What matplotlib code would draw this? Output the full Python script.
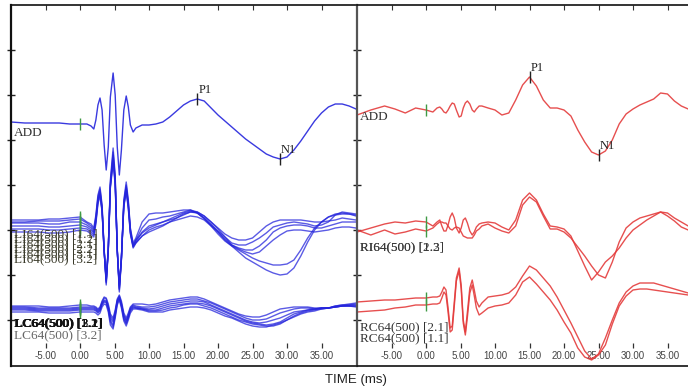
import matplotlib
matplotlib.use("Agg")
import matplotlib.pyplot as plt
import numpy as np

# time base (ms), shared by every trace
T = [-10, -8, -6, -4.5, -3, -1.5, 0, 1.0, 1.6,
     2.0, 2.3, 2.6, 2.9, 3.2, 3.5, 3.8, 4.1, 4.4, 4.8, 5.1, 5.4, 5.7, 6.0, 6.35, 6.7, 7.0, 7.3, 7.7,
     8.1, 9, 10, 11, 12, 13, 14, 15, 16, 17, 18, 19, 20, 21, 22, 23, 24, 25, 26, 27, 28, 29,
     30, 31, 32, 33, 34, 35, 36, 37, 38, 39, 40]

# ---------------------------------------------------------------------------
# Left hemisphere (blue)
# ---------------------------------------------------------------------------
LEFT_ADD = [243, 242, 242, 242, 242, 241, 241, 241, 239,
            236, 245, 260, 267, 255, 220, 195, 218, 268, 292, 270, 218, 190, 215, 255, 269, 258, 240, 233,
            237, 240, 240, 241, 243, 248, 254, 260, 264, 266, 264, 257, 250, 244, 238, 232, 226, 221, 216,
            211, 208, 206, 208, 215, 224, 234, 244, 252, 258, 261, 261, 259, 256]

LEFT_LI = [
    [145, 145, 145, 146, 146, 147, 148, 143, 141,
     137, 150, 170, 178, 160, 115, 80, 115, 185, 217, 190, 115, 73, 105, 165, 183, 165, 137, 122,
     127, 143, 151, 152, 152, 153, 154, 155, 155, 153, 149, 143, 137, 131, 127, 125, 125, 127, 133,
     139, 143, 145, 145, 145, 145, 144, 143, 143, 144, 145, 147, 146, 145],
    [143, 143, 144, 144, 144, 145, 146, 142, 139,
     135, 148, 168, 176, 158, 116, 83, 117, 182, 213, 187, 116, 76, 107, 163, 180, 163, 136, 120,
     125, 137, 145, 146, 148, 149, 151, 153, 155, 152, 146, 140, 134, 128, 122, 120, 120, 123, 127,
     132, 138, 140, 142, 143, 142, 141, 139, 140, 143, 150, 153, 152, 151],
    [142, 142, 142, 141, 141, 143, 143, 140, 137,
     133, 146, 166, 174, 156, 114, 82, 116, 180, 210, 185, 115, 75, 106, 161, 178, 161, 134, 119,
     123, 133, 139, 141, 143, 145, 147, 150, 153, 153, 149, 143, 136, 128, 120, 117, 115, 115, 119,
     125, 133, 137, 139, 140, 140, 139, 137, 137, 139, 141, 143, 143, 143],
    [139, 139, 139, 138, 138, 139, 140, 138, 135,
     132, 144, 164, 172, 155, 113, 84, 115, 178, 207, 183, 114, 77, 106, 159, 176, 159, 133, 118,
     122, 129, 135, 138, 140, 143, 145, 147, 149, 148, 145, 139, 133, 126, 120, 116, 113, 111, 113,
     119, 125, 130, 134, 135, 135, 134, 133, 134, 135, 137, 138, 138, 137],
    [136, 136, 136, 135, 135, 136, 137, 136, 133,
     130, 143, 163, 171, 154, 115, 85, 117, 179, 205, 182, 115, 79, 108, 160, 175, 158, 132, 119,
     125, 132, 137, 140, 143, 146, 149, 152, 154, 152, 147, 139, 131, 124, 119, 115, 111, 107, 104,
     102, 100, 100, 101, 105, 115, 127, 137, 143, 148, 151, 152, 151, 149],
    [133, 133, 133, 132, 132, 133, 135, 134, 131,
     128, 141, 161, 169, 153, 113, 86, 116, 177, 202, 180, 114, 80, 107, 158, 173, 156, 131, 117,
     122, 129, 133, 136, 139, 143, 147, 151, 153, 152, 147, 141, 133, 125, 119, 113, 107, 103, 99,
     95, 92, 90, 91, 97, 109, 123, 135, 143, 148, 150, 151, 151, 150],
]

LEFT_LC = [
    [59, 59, 59, 58, 58, 59, 60, 60, 59,
     59, 58, 56, 58, 64, 68, 67, 61, 51, 47, 55, 66, 70, 64, 52, 47, 52, 58, 61,
     61, 61, 60, 61, 63, 65, 66, 67, 68, 68, 66, 63, 60, 57, 54, 51, 49, 48, 48, 50, 53, 56, 57,
     58, 58, 58, 57, 57, 57, 59, 60, 61, 62],
    [58, 58, 57, 57, 57, 57, 58, 58, 58,
     58, 57, 55, 57, 63, 67, 66, 59, 49, 45, 53, 65, 69, 62, 50, 45, 50, 57, 60,
     59, 58, 58, 59, 61, 63, 64, 65, 66, 66, 64, 62, 59, 56, 53, 50, 47, 45, 45, 46, 49, 52, 54,
     56, 57, 57, 56, 56, 57, 59, 60, 60, 61],
    [57, 57, 56, 56, 56, 56, 57, 57, 57,
     57, 56, 54, 56, 62, 65, 64, 58, 47, 43, 52, 64, 68, 61, 49, 44, 49, 56, 59,
     58, 57, 56, 57, 59, 61, 62, 63, 64, 64, 63, 60, 57, 54, 51, 48, 45, 43, 42, 43, 45, 47, 50,
     53, 54, 55, 56, 57, 57, 58, 59, 60, 60],
    [56, 56, 55, 55, 55, 55, 56, 56, 56,
     56, 55, 53, 55, 61, 64, 63, 57, 45, 40, 50, 63, 67, 60, 47, 42, 48, 55, 58,
     57, 56, 55, 55, 57, 59, 60, 61, 62, 62, 61, 59, 56, 53, 50, 47, 44, 42, 41, 40, 41, 43, 47,
     51, 53, 55, 56, 57, 57, 58, 59, 59, 59],
    [55, 55, 54, 54, 54, 54, 55, 55, 55,
     55, 54, 52, 54, 60, 63, 62, 55, 43, 38, 49, 62, 66, 59, 46, 41, 47, 54, 57,
     57, 56, 54, 54, 55, 57, 58, 60, 61, 61, 59, 57, 54, 51, 48, 45, 43, 41, 40, 39, 39, 41, 45,
     49, 52, 54, 55, 57, 57, 58, 59, 59, 59],
    [53, 53, 53, 52, 52, 52, 53, 53, 53,
     53, 52, 50, 52, 58, 61, 60, 53, 40, 36, 47, 60, 65, 57, 44, 39, 45, 52, 56,
     56, 55, 53, 53, 53, 55, 56, 57, 58, 58, 57, 55, 52, 49, 47, 44, 41, 39, 38, 38, 40, 42, 45,
     48, 51, 53, 54, 56, 57, 58, 59, 59, 58],
]

# ---------------------------------------------------------------------------
# Right hemisphere (red)
# ---------------------------------------------------------------------------
RIGHT_ADD = [250, 255, 259, 256, 252, 257, 255, 253, 257,
             258, 256, 253, 252, 255, 259, 262, 261, 255, 248, 249, 257, 262, 264, 261, 255, 253, 256, 259,
             259, 257, 255, 250, 252, 265, 280, 288, 279, 265, 257, 257, 255, 249, 235, 223, 213, 210,
             214, 225, 241, 251, 256, 260, 263, 266, 272, 271, 264, 259, 256, 254, 253]

RIGHT_RI = [
    [133, 137, 141, 143, 142, 144, 143, 139, 143,
     145, 139, 134, 134, 140, 148, 152, 147, 137, 132, 137, 145, 147, 142, 134, 130, 133, 138, 141,
     142, 143, 142, 138, 135, 145, 165, 172, 165, 151, 139, 138, 136, 129, 114, 99, 85, 93, 103,
     109, 117, 127, 135, 140, 145, 149, 153, 152, 147, 143, 139, 137, 136],
    [135, 130, 135, 131, 133, 136, 134, 137, 141,
     143, 143, 142, 142, 139, 136, 135, 137, 138, 137, 133, 129, 128, 127, 127, 127, 130, 134, 136,
     139, 141, 137, 134, 132, 139, 160, 168, 163, 149, 136, 136, 133, 127, 118, 109, 99, 90, 87,
     103, 123, 137, 143, 147, 149, 151, 153, 149, 144, 138, 135, 134, 134],
]

RIGHT_RC = [
    [63, 64, 65, 65, 66, 67, 67, 68, 68,
     69, 73, 78, 75, 57, 37, 39, 63, 87, 97, 80, 45, 33, 53, 77, 85, 75, 64, 58,
     62, 68, 69, 70, 72, 78, 89, 99, 95, 87, 79, 68, 55, 42, 28, 14, 6, 11, 27, 45, 62, 73, 79,
     82, 82, 82, 80, 78, 76, 74, 72, 71, 70],
    [53, 54, 55, 57, 58, 60, 60, 61, 61,
     62, 67, 73, 70, 53, 33, 35, 59, 84, 94, 76, 42, 30, 48, 72, 80, 69, 57, 50,
     52, 57, 59, 60, 62, 70, 83, 88, 81, 73, 65, 55, 43, 32, 17, 8, 5, 10, 20, 41, 59, 69, 75,
     76, 76, 75, 74, 73, 72, 71, 70, 69, 69],
]

LEFT_LI_LABELS = ["LI64(500) [1.1]", "LI64(500) [1.2]", "LI64(500) [2.1]",
                  "LI64(500) [2.2]", "LI64(500) [3.1]", "LI64(500) [3.2]"]
LEFT_LC_LABELS = ["LC64(500) [1.1]", "LC64(500) [1.2]", "LC64(500) [2.1]",
                  "LC64(500) [2.2]", "LC64(500) [3.1]", "LC64(500) [3.2]"]
RIGHT_RI_LABELS = ["RI64(500) [1.3]", "RI64(500) [2.2]"]
RIGHT_RC_LABELS = ["RC64(500) [2.1]", "RC64(500) [1.1]"]

XTICKS = [-5, 0, 5, 10, 15, 20, 25, 30, 35]
YTICKS = [45, 90, 135, 180, 225, 270, 315]

BLUE = "#2424dc"
RED = "#e43c3c"
GREEN = "#3f9a45"
SERIF = "Liberation Serif"
SANS = "Liberation Sans"

W, H = 688, 389
fig = plt.figure(figsize=(W / 100, H / 100), dpi=100)
ax_l = fig.add_axes([11 / W, 23 / H, 345 / W, 361 / H])
ax_r = fig.add_axes([357 / W, 23 / H, 345 / W, 361 / H])


def style_axes(ax, spine_color):
    ax.set_xlim(-10, 40)
    ax.set_ylim(-1, 360)
    ax.patch.set_alpha(0)
    ax.spines["right"].set_visible(False)
    ax.spines["left"].set_color(spine_color)
    ax.spines["left"].set_linewidth(1.6)
    for s in ("top", "bottom"):
        ax.spines[s].set_linewidth(1.2)
        ax.spines[s].set_color("#111111")
    ax.set_xticks(XTICKS)
    ax.xaxis.set_ticks_position("top")
    ax.tick_params(axis="x", direction="in", length=3.5, width=0.8,
                   labeltop=False, labelbottom=False, color="#333333")
    ax.set_yticks(YTICKS)
    ax.tick_params(axis="y", direction="inout", length=6, width=1.0,
                   labelleft=False, color="#222222")
    sec = ax.secondary_xaxis(0.05)
    sec.set_xticks(XTICKS, [f"{x:.2f}" for x in XTICKS])
    sec.spines["bottom"].set_visible(False)
    sec.tick_params(direction="in", length=3.5, width=0.9, pad=2.5,
                    labelsize=7, labelcolor="#444444", color="#333333")
    for lab in sec.get_xticklabels():
        lab.set_fontfamily(SANS)


def draw_traces(ax, traces, color, alpha):
    for tr in traces:
        ax.plot(T, tr, color=color, lw=1.0, alpha=alpha, solid_joinstyle="round")
        ax.plot(0, tr[T.index(0)], marker="|", ms=8, mew=1.0, color=GREEN)


def mark_peak(ax, trace, lo, hi, text, find_max):
    t = np.array(T)
    v = np.array(trace)
    idx = np.where((t >= lo) & (t <= hi))[0]
    k = idx[np.argmax(v[idx])] if find_max else idx[np.argmin(v[idx])]
    ax.plot(t[k], v[k], marker="|", ms=9, mew=1.0, color="#222222")
    ax.text(t[k] + 0.15, v[k] + 3, text, family=SERIF, fontsize=9,
            color="#222222", va="bottom", ha="left")


def label(ax, v, text, color="#333333", dx=0.0):
    ax.text(-9.6 + dx, v, text, family=SERIF, fontsize=9.5, color=color,
            va="top", ha="left")


style_axes(ax_l, "#111111")
style_axes(ax_r, "#555555")

# left panel
draw_traces(ax_l, [LEFT_ADD], BLUE, 0.9)
draw_traces(ax_l, LEFT_LI, BLUE, 0.75)
draw_traces(ax_l, LEFT_LC, BLUE, 0.75)
mark_peak(ax_l, LEFT_ADD, 10, 25, "P1", True)
mark_peak(ax_l, LEFT_ADD, 20, 35, "N1", False)
label(ax_l, 238, "ADD")
for i, txt in enumerate(LEFT_LI_LABELS):
    label(ax_l, 137 - 5 * i, txt, color="#3a3a2a")
for i, txt in enumerate(LEFT_LC_LABELS[:-1]):
    label(ax_l, 48, txt, color="#111111", dx=0.06 * i)
label(ax_l, 36, LEFT_LC_LABELS[-1], color="#666666")

# right panel
draw_traces(ax_r, [RIGHT_ADD], RED, 0.9)
draw_traces(ax_r, RIGHT_RI, RED, 0.9)
draw_traces(ax_r, RIGHT_RC, RED, 0.9)
mark_peak(ax_r, RIGHT_ADD, 10, 20, "P1", True)
mark_peak(ax_r, RIGHT_ADD, 20, 30, "N1", False)
label(ax_r, 254, "ADD")
for txt in RIGHT_RI_LABELS:
    label(ax_r, 124, txt, color="#3a3a3a")
label(ax_r, 44, RIGHT_RC_LABELS[0])
label(ax_r, 33, RIGHT_RC_LABELS[1])

fig.text(356 / W, 1 - 380 / H, "TIME (ms)", family=SANS, fontsize=9.5,
         color="#222222", ha="center", va="center")

fig.savefig("out.png", dpi=100)
